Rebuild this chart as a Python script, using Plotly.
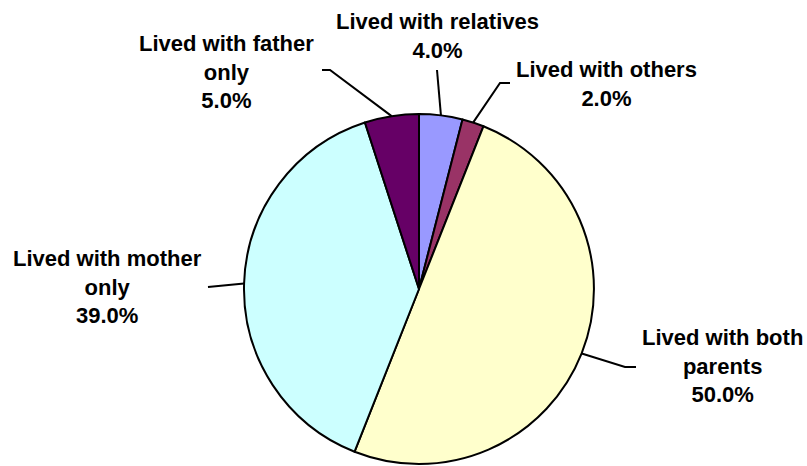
import math
import plotly.graph_objects as go

# Living arrangements (share of children, %)
categories = [
    "Lived with relatives",
    "Lived with others",
    "Lived with both parents",
    "Lived with mother only",
    "Lived with father only",
]
label_text = [
    "Lived with relatives",
    "Lived with others",
    "Lived with both<br>parents",
    "Lived with mother<br>only",
    "Lived with father<br>only",
]
values = [4.0, 2.0, 50.0, 39.0, 5.0]
colors = ["#9999FF", "#993366", "#FFFFCC", "#CCFFFF", "#660066"]

W, H = 807, 466
CX, CY, R = 419, 289, 175  # pie centre and radius in pixels

# label centre (px) and leader-line elbow / end points (px)
label_pos = [(437, 36), (606, 84), (722, 366), (107, 287), (227, 72)]
leader_pts = [
    [(437, 70)],
    [(500, 83), (510, 83)],
    [(625, 367), (636, 367)],
    [(208, 287)],
    [(330, 70), (322, 70)],
]


def px(x):
    return x / W


def py(y):
    return 1 - y / H


fig = go.Figure()
fig.add_trace(
    go.Pie(
        labels=categories,
        values=values,
        sort=False,
        direction="clockwise",
        rotation=0,
        marker=dict(colors=colors, line=dict(color="black", width=2)),
        textinfo="none",
        hoverinfo="label+percent",
        showlegend=False,
        domain=dict(x=[px(CX - R), px(CX + R)], y=[py(CY + R), py(CY - R)]),
    )
)

total = sum(values)
cum = 0.0
shapes = []
annotations = []
for i, v in enumerate(values):
    mid = (cum + v / 2) / total * 2 * math.pi
    cum += v
    ex = CX + R * math.sin(mid)
    ey = CY - R * math.cos(mid)
    pts = [(ex, ey)] + leader_pts[i]
    path = "M " + " L ".join(f"{px(x):.5f},{py(y):.5f}" for x, y in pts)
    shapes.append(
        dict(type="path", path=path, xref="paper", yref="paper",
             line=dict(color="black", width=2))
    )
    lx, ly = label_pos[i]
    annotations.append(
        dict(
            text=f"{label_text[i]}<br>{v:.1f}%",
            x=px(lx), y=py(ly), xref="paper", yref="paper",
            xanchor="center", yanchor="middle", align="center",
            showarrow=False,
            font=dict(family="Arial, Liberation Sans, sans-serif", size=22,
                      color="black", weight="bold"),
        )
    )

fig.update_layout(
    width=W, height=H,
    margin=dict(l=0, r=0, t=0, b=0),
    paper_bgcolor="white", plot_bgcolor="white",
    shapes=shapes, annotations=annotations,
)

fig.write_html("out.html")
